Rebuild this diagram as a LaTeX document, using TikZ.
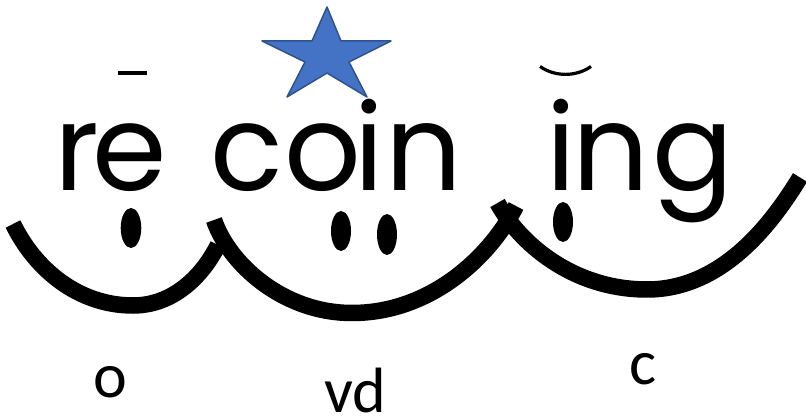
\documentclass[tikz,border=0pt]{standalone}
\usepackage{fontspec}
\newfontfamily\bigf{Poppins}
\newfontfamily\lblf{Carlito}
\definecolor{starfill}{HTML}{4472C4}
\definecolor{stardraw}{HTML}{2F528F}
\tikzset{
  letter/.style={inner sep=0pt, outer sep=0pt, anchor=base, font=\bigf\fontsize{120}{120}\selectfont},
  lbl/.style={inner sep=0pt, outer sep=0pt, anchor=base, font=\lblf\fontsize{64}{64}\selectfont},
  smile/.style={line width=16.5pt, line cap=butt, black},
  eye/.style={fill=black},
  accentline/.style={line width=3.2pt, black}
}
\begin{document}
\begin{tikzpicture}[x=1pt,y=-1pt]
\useasboundingbox (0,0) rectangle (806,419);
\fill[white] (0,0) rectangle (806,419);
\clip (0,0) rectangle (806,419);
% letters
\node[letter] (r1) at (76.5,191) {r};
\node[letter] (e1) at (129.5,191) {e};
\node[letter] (c1) at (246.5,191) {c};
\node[letter] (o1) at (322.5,191) {o};
\node[letter] (i1) at (369,191) {i};
\node[letter] (n1) at (423.5,191) {n};
\node[letter] (i2) at (561.5,191) {i};
\node[letter] (n2) at (610.5,191) {n};
\node[letter] (g1) at (693,191) {g};
% diacritics
\draw[accentline] (118,73) -- (147,73);
\draw[accentline] (540,66.5) .. controls (555,77) and (576,77) .. (591,66.5);
% star
\draw[fill=starfill, draw=stardraw, line width=1.5pt, line join=round]
  (327,7) -- (341,41) -- (391,41) -- (349,62) -- (367,97) -- (327,73)
  -- (287,97) -- (305,62) -- (262,41) -- (312,41) -- cycle;
% smiles
\draw[smile] (13,224) .. controls (35,269) and (78,305.5) .. (133,305.5)
  .. controls (173,305.5) and (202.4,276.3) .. (218,245);
\draw[smile] (214,220) .. controls (228.4,262.75) and (282,313) .. (352,313)
  .. controls (432,313) and (491.2,255) .. (516,206);
\draw[smile] (497.5,203) .. controls (519.1,242.4) and (572,289.5) .. (647,289.5)
  .. controls (722,289.5) and (771.4,224.3) .. (800,177.5);
% eyes
\fill[eye] (131,228) ellipse [x radius=10.3, y radius=20];
\fill[eye] (341,231) ellipse [x radius=10, y radius=20];
\fill[eye] (387,234.5) ellipse [x radius=10, y radius=20.5];
\fill[eye] (563,222) ellipse [x radius=10, y radius=20];
% labels
\node[lbl] (lo) at (110,398) {o};
\node[lbl] (lvd) at (355.5,412.5) {vd};
\node[lbl] (lc) at (643.5,385) {c};
\end{tikzpicture}
\end{document}
